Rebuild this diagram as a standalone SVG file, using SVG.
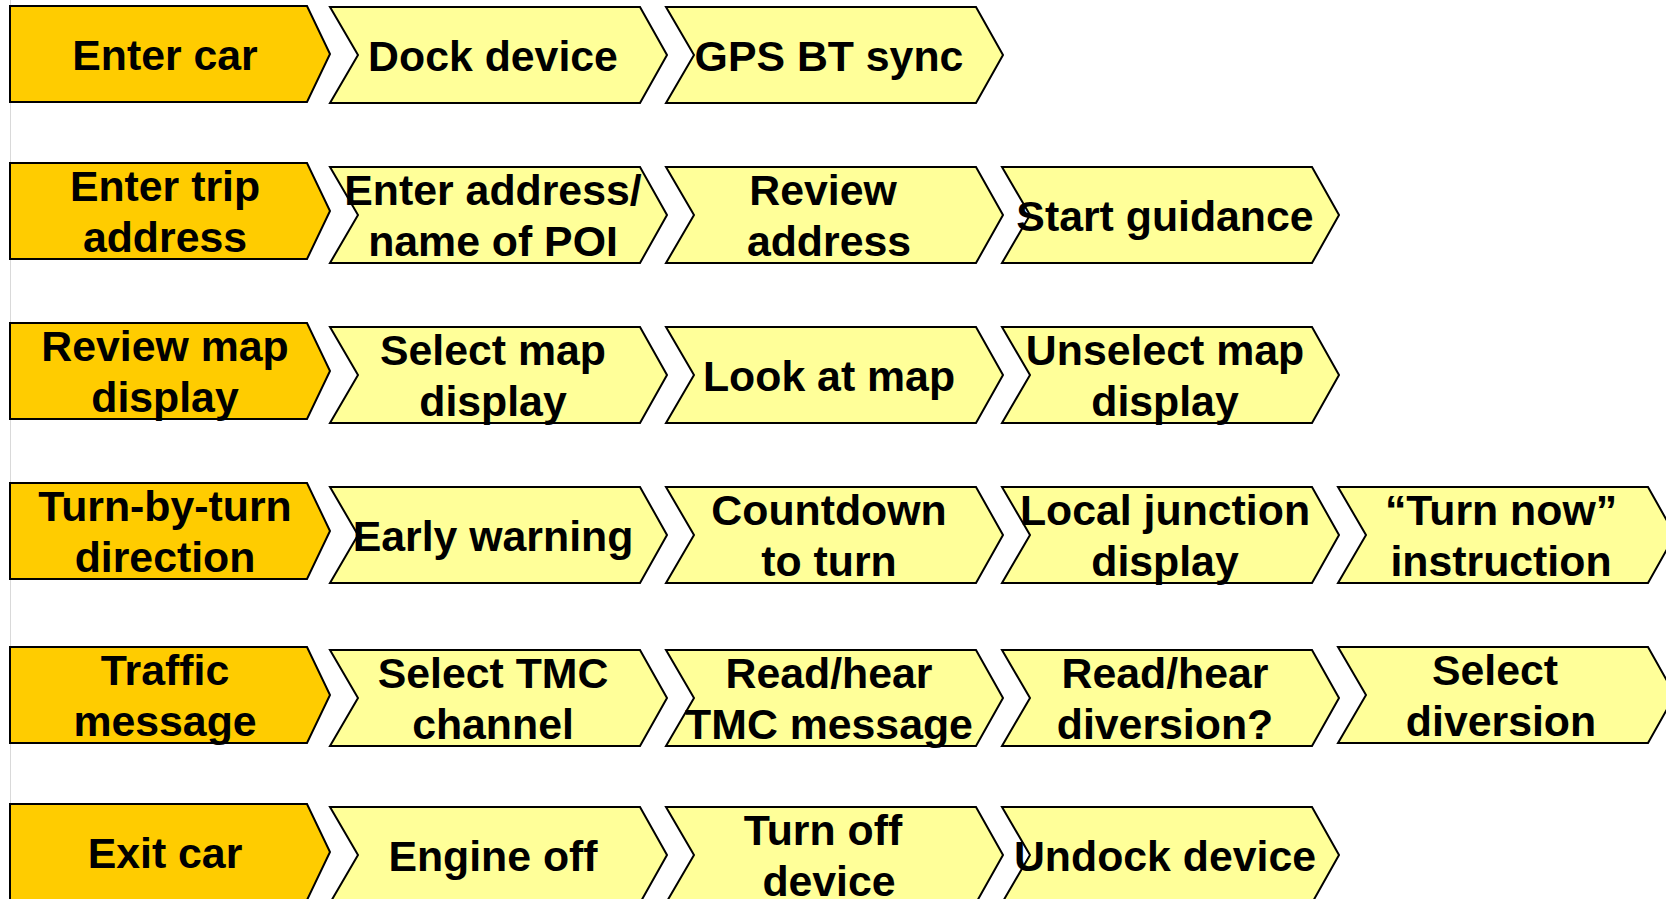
<svg xmlns="http://www.w3.org/2000/svg" xmlns:xlink="http://www.w3.org/1999/xlink" width="1666" height="899" viewBox="0 0 1666 899">
<style>
.o{fill:#FFCC00;stroke:#000;stroke-width:2;stroke-linejoin:miter}
.y{fill:#FFFF99;stroke:#000;stroke-width:2;stroke-linejoin:miter}
text{font-family:"Liberation Sans",Arial,Helvetica,sans-serif;font-weight:bold;font-size:42.8px;text-anchor:middle;fill:#000}
</style>
<defs>
<path id="oc" class="o" d="M0,0 H297 L320,48 L297,96 H0 Z"/>
<path id="yc" class="y" d="M0,0 H310 L337,48 L310,96 H0 L28,48 Z"/>
</defs>
<rect x="0" y="0" width="1666" height="899" fill="#fff"/>
<line x1="10.5" y1="0" x2="10.5" y2="899" stroke="#d9d9d9" stroke-width="1"/>
<g id="connectors"/>

<!-- Row 1 -->
<g id="enter-car"><use xlink:href="#oc" x="10" y="6"/><text x="165" y="69.5">Enter car</text></g>
<g id="dock-device"><use xlink:href="#yc" x="330" y="7"/><text x="493" y="70.5">Dock device</text></g>
<g id="gps-bt-sync"><use xlink:href="#yc" x="666" y="7"/><text x="829" y="70.5">GPS BT sync</text></g>

<!-- Row 2 -->
<g id="enter-trip-address"><use xlink:href="#oc" x="10" y="163"/><text x="165" y="200.5">Enter trip</text><text x="165" y="251.5">address</text></g>
<g id="enter-address"><use xlink:href="#yc" x="330" y="167"/><text x="493" y="204.5">Enter address/</text><text x="493" y="255.5">name of POI</text></g>
<g id="review-address"><use xlink:href="#yc" x="666" y="167"/><text x="823" y="204.5">Review</text><text x="829" y="255.5">address</text></g>
<g id="start-guidance"><use xlink:href="#yc" x="1002" y="167"/><text x="1165" y="230.5">Start guidance</text></g>

<!-- Row 3 -->
<g id="review-map-display"><use xlink:href="#oc" x="10" y="323"/><text x="165" y="360.5">Review map</text><text x="165" y="411.5">display</text></g>
<g id="select-map-display"><use xlink:href="#yc" x="330" y="327"/><text x="493" y="364.5">Select map</text><text x="493" y="415.5">display</text></g>
<g id="look-at-map"><use xlink:href="#yc" x="666" y="327"/><text x="829" y="390.5">Look at map</text></g>
<g id="unselect-map-display"><use xlink:href="#yc" x="1002" y="327"/><text x="1165" y="364.5">Unselect map</text><text x="1165" y="415.5">display</text></g>

<!-- Row 4 -->
<g id="turn-by-turn"><use xlink:href="#oc" x="10" y="483"/><text x="165" y="520.5">Turn-by-turn</text><text x="165" y="571.5">direction</text></g>
<g id="early-warning"><use xlink:href="#yc" x="330" y="487"/><text x="493" y="550.5">Early warning</text></g>
<g id="countdown"><use xlink:href="#yc" x="666" y="487"/><text x="829" y="524.5">Countdown</text><text x="829" y="575.5">to turn</text></g>
<g id="local-junction"><use xlink:href="#yc" x="1002" y="487"/><text x="1165" y="524.5">Local junction</text><text x="1165" y="575.5">display</text></g>
<g id="turn-now"><use xlink:href="#yc" x="1338" y="487"/><text x="1501" y="524.5">“Turn now”</text><text x="1501" y="575.5">instruction</text></g>

<!-- Row 5 -->
<g id="traffic-message"><use xlink:href="#oc" x="10" y="647"/><text x="165" y="684.5">Traffic</text><text x="165" y="735.5">message</text></g>
<g id="select-tmc"><use xlink:href="#yc" x="330" y="650"/><text x="493" y="687.5">Select TMC</text><text x="493" y="738.5">channel</text></g>
<g id="read-tmc"><use xlink:href="#yc" x="666" y="650"/><text x="829" y="687.5">Read/hear</text><text x="829" y="738.5">TMC message</text></g>
<g id="read-diversion"><use xlink:href="#yc" x="1002" y="650"/><text x="1165" y="687.5">Read/hear</text><text x="1165" y="738.5">diversion?</text></g>
<g id="select-diversion"><use xlink:href="#yc" x="1338" y="647"/><text x="1495" y="684.5">Select</text><text x="1501" y="735.5">diversion</text></g>

<!-- Row 6 -->
<g id="exit-car"><use xlink:href="#oc" x="10" y="804"/><text x="165" y="867.5">Exit car</text></g>
<g id="engine-off"><use xlink:href="#yc" x="330" y="807"/><text x="493" y="870.5">Engine off</text></g>
<g id="turn-off-device"><use xlink:href="#yc" x="666" y="807"/><text x="823" y="844.5">Turn off</text><text x="829" y="895.5">device</text></g>
<g id="undock-device"><use xlink:href="#yc" x="1002" y="807"/><text x="1165" y="870.5">Undock device</text></g>
</svg>
